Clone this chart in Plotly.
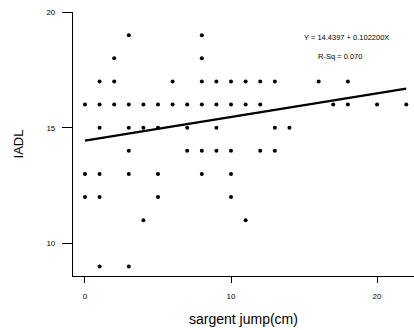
import plotly.graph_objects as go

# IADL value rows and the sargent jump values (cm) observed at each level
iadl_levels = [19, 18, 17, 16, 15, 14, 13, 12, 11, 9]
jump_by_level = [
    [3, 8],
    [2, 8],
    [1, 2, 6, 8, 9, 10, 11, 12, 13, 16, 18],
    [0, 1, 2, 3, 4, 5, 6, 7, 8, 9, 10, 11, 12, 17, 18, 20, 22],
    [1, 3, 4, 5, 7, 9, 13, 14],
    [3, 7, 8, 9, 10, 12, 13],
    [0, 1, 3, 5, 8, 10],
    [0, 1, 5, 10],
    [4, 11],
    [1, 3],
]
intercept = 14.4397
slope = 0.102200
fit_x = [0, 22]
x_ticks = [0, 10, 20]
y_ticks = [10, 15, 20]

xs, ys = [], []
for lvl, jumps in zip(iadl_levels, jump_by_level):
    for j in jumps:
        xs.append(j)
        ys.append(lvl)

fit_y = [intercept + slope * v for v in fit_x]

fig = go.Figure()
fig.add_trace(go.Scatter(x=xs, y=ys, mode="markers",
                         marker=dict(color="black", size=4), showlegend=False))
fig.add_trace(go.Scatter(x=fit_x, y=fit_y, mode="lines",
                         line=dict(color="black", width=2.2), showlegend=False))

fig.add_annotation(x=0.803, y=0.905, xref="paper", yref="paper",
                   xanchor="center", yanchor="middle",
                   text="Y = 14.4397 + 0.102200X", showarrow=False,
                   font=dict(size=7.5, color="black", family="Liberation Sans"))
fig.add_annotation(x=0.783, y=0.833, xref="paper", yref="paper",
                   xanchor="center", yanchor="middle",
                   text="R-Sq = 0.070", showarrow=False,
                   font=dict(size=7.5, color="black", family="Liberation Sans"))

fig.update_layout(
    width=414, height=330,
    margin=dict(l=73, r=0, t=12, b=54),
    paper_bgcolor="white", plot_bgcolor="white",
    font=dict(family="Liberation Sans", color="black"),
    xaxis=dict(range=[-0.82, 22.53], tickvals=x_ticks, ticks="outside",
               ticklen=6, tickcolor="black", showline=True, linecolor="black",
               linewidth=1.2, showgrid=False, zeroline=False,
               tickfont=dict(size=8), ticklabelstandoff=6,
               title=dict(text="sargent jump(cm)", font=dict(size=14), standoff=14)),
    yaxis=dict(range=[8.59, 20], tickvals=y_ticks, ticks="outside",
               ticklen=10, tickcolor="black", showline=True, linecolor="black",
               linewidth=1.2, showgrid=False, zeroline=False,
               tickfont=dict(size=8), ticklabelstandoff=5,
               title=dict(text="IADL", font=dict(size=13), standoff=19)),
)

fig.write_html("out.html")
